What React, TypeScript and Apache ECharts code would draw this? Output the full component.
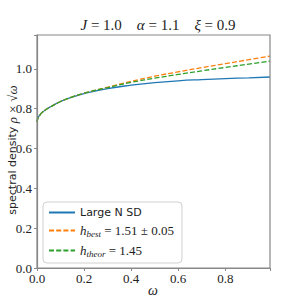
import React, { useEffect, useRef } from "react";
import * as echarts from "echarts";

const omega = [0, 0.005, 0.01, 0.02, 0.04, 0.06, 0.1, 0.15, 0.2, 0.3, 0.4, 0.5, 0.6, 0.7, 0.8, 0.9, 0.99];
const largeNSD = [0.733, 0.757, 0.765, 0.779, 0.797, 0.811, 0.836, 0.858, 0.876, 0.901, 0.918, 0.931, 0.940, 0.946, 0.951, 0.955, 0.959];
const hBest = [0.733, 0.757, 0.765, 0.779, 0.797, 0.811, 0.836, 0.859, 0.878, 0.908, 0.937, 0.963, 0.985, 1.006, 1.026, 1.046, 1.064];
const hTheor = [0.733, 0.757, 0.765, 0.779, 0.797, 0.811, 0.836, 0.859, 0.878, 0.906, 0.932, 0.953, 0.972, 0.990, 1.007, 1.024, 1.039];
const xTicks = [0, 0.2, 0.4, 0.6, 0.8];
const yTicks = [0, 0.2, 0.4, 0.6, 0.8, 1.0];
const seriesNames = ["Large N SD", "h_best", "h_theor"];

const serif = "'Liberation Serif', 'DejaVu Serif', serif";
const sans = "'DejaVu Sans', sans-serif";

export default function App() {
  const ref = useRef<HTMLDivElement>(null);
  useEffect(() => {
    if (!ref.current) return;
    const chart = echarts.init(ref.current, null, { renderer: "svg" });
    const pair = (ys: number[]) => omega.map((x, i) => [x, ys[i]]);
    chart.setOption({
      animation: false,
      backgroundColor: "#fff",
      title: {
        text: "{i|J} = 1.0    {i|α} = 1.1    {i|ξ} = 0.9",
        left: 153,
        textAlign: "center",
        top: 12,
        textStyle: {
          fontFamily: serif,
          fontSize: 15,
          fontWeight: "normal",
          color: "#222",
          rich: { i: { fontFamily: serif, fontStyle: "italic", fontSize: 15, color: "#222" } },
        },
      },
      grid: { left: 37, right: 30, top: 35, bottom: 32, containLabel: false, outerBoundsMode: "none" },
      legend: {
        left: 43,
        top: 202,
        orient: "vertical",
        itemWidth: 26,
        itemHeight: 10,
        itemGap: 6,
        padding: [5, 8, 5, 5],
        backgroundColor: "#fff",
        borderColor: "#d0d0d0",
        borderWidth: 1,
        borderRadius: 4,
        data: seriesNames,
        itemStyle: { opacity: 0 },
        formatter: (name: string) => {
          if (name === "h_best") return "{i|h}{s|best} = 1.51 ± 0.05";
          if (name === "h_theor") return "{i|h}{s|theor} = 1.45";
          return "{n|Large N SD}";
        },
        textStyle: {
          fontFamily: serif,
          fontSize: 13,
          color: "#222",
          rich: {
            n: { fontFamily: sans, fontSize: 11, color: "#222" },
            i: { fontFamily: serif, fontStyle: "italic", fontSize: 13, color: "#222" },
            s: { fontFamily: serif, fontStyle: "italic", fontSize: 9, color: "#222", verticalAlign: "bottom", padding: [6, 0, 0, 0] },
          },
        },
      },
      xAxis: {
        type: "value",
        min: 0,
        max: 0.99,
        interval: 0.2,
        axisLine: { show: true, onZero: false, lineStyle: { color: "#888", width: 1.2 } },
        axisTick: { show: true, length: 3, lineStyle: { color: "#888" } },
        axisLabel: {
          fontFamily: serif,
          fontSize: 13,
          color: "#222",
          margin: 4,
          formatter: (v: number) => (xTicks.some((t) => Math.abs(t - v) < 1e-9) ? v.toFixed(1) : ""),
        },
        splitLine: { show: false },
      },
      yAxis: {
        type: "value",
        min: 0,
        max: 1.17,
        interval: 0.2,
        axisLine: { show: true, onZero: false, lineStyle: { color: "#888", width: 1.2 } },
        axisTick: { show: true, length: 3, lineStyle: { color: "#888" } },
        axisLabel: {
          fontFamily: serif,
          fontSize: 13,
          color: "#222",
          margin: 5,
          formatter: (v: number) => (yTicks.some((t) => Math.abs(t - v) < 1e-9) ? v.toFixed(1) : ""),
        },
        splitLine: { show: false },
      },
      graphic: [
        {
          type: "rect",
          shape: { x: 37, y: 35, width: 233, height: 233 },
          style: { fill: "none", stroke: "#888", lineWidth: 1.2 },
          silent: true,
          z: 10,
        },
        {
          type: "text",
          x: 12,
          y: 150,
          rotation: Math.PI / 2,
          silent: true,
          style: {
            text: "{n|spectral density }{i|ρ × √ω}",
            align: "center",
            verticalAlign: "middle",
            rich: {
              n: { fontFamily: sans, fontSize: 11, fill: "#222" },
              i: { fontFamily: serif, fontStyle: "italic", fontSize: 13, fill: "#222" },
            },
          },
        },
        {
          type: "text",
          x: 153,
          y: 290,
          silent: true,
          style: {
            text: "ω",
            align: "center",
            verticalAlign: "middle",
            fontFamily: serif,
            fontStyle: "italic",
            fontSize: 14,
            fill: "#222",
          },
        },
      ],
      series: [
        {
          name: seriesNames[0],
          type: "line",
          data: pair(largeNSD),
          showSymbol: false,
          symbol: "none",
          smooth: true,
          lineStyle: { color: "#1f77b4", width: 1.3 },
          itemStyle: { color: "#1f77b4" },
        },
        {
          name: seriesNames[1],
          type: "line",
          data: pair(hBest),
          showSymbol: false,
          symbol: "none",
          smooth: true,
          lineStyle: { color: "#ff7f0e", width: 1.3, type: [5, 2.2] },
          itemStyle: { color: "#ff7f0e" },
        },
        {
          name: seriesNames[2],
          type: "line",
          data: pair(hTheor),
          showSymbol: false,
          symbol: "none",
          smooth: true,
          lineStyle: { color: "#2ca02c", width: 1.3, type: [5, 2.2] },
          itemStyle: { color: "#2ca02c" },
        },
      ],
    });
    return () => chart.dispose();
  }, []);
  return <div ref={ref} style={{ width: 300, height: 300, position: "absolute", left: 0, top: 0 }} />;
}
